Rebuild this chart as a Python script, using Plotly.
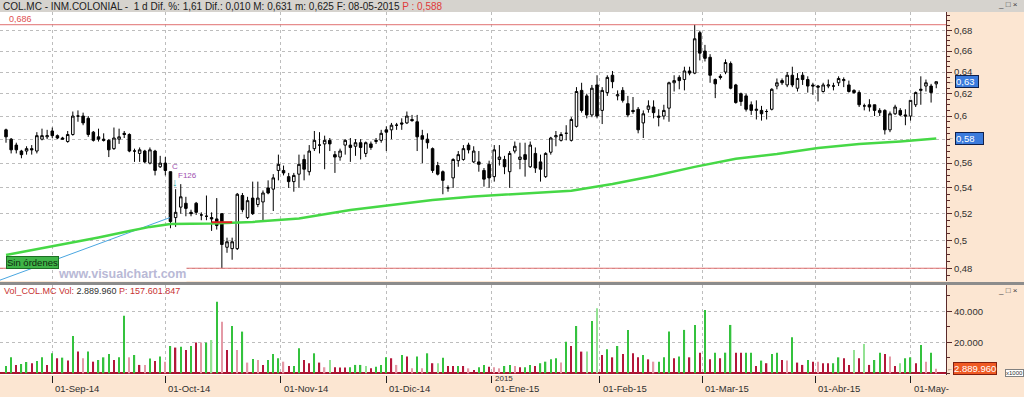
import numpy as np
import plotly.graph_objects as go

# ---------------- data ----------------
opens = [.588,.580,.575,.570,.570,.572,.570,.580,.582,.587,
         .583,.581,.578,.584,.600,.600,.598,.586,.582,.580,
         .579,.572,.580,.585,.584,.570,.568,.570,.560,.570,
         .557,.560,.553,.517,.525,.528,.521,.528,.519,.518,
         .517,.516,.520,.495,.494,.494,.534,.517,.532,.527,
         .529,.540,.539,.554,.554,.549,.545,.551,.563,.553,
         .572,.575,.576,.579,.567,.565,.575,.575,.574,.577,
         .568,.576,.578,.579,.588,.588,.592,.594,.594,.597,
         .595,.583,.580,.572,.558,.553,.540,.548,.562,.563,
         .575,.561,.561,.554,.559,.549,.563,.563,.553,.570,
         .563,.567,.557,.568,.561,.549,.569,.582,.579,.585,
         .579,.591,.623,.618,.601,.628,.605,.621,.637,.618,
         .623,.611,.605,.606,.594,.606,.608,.600,.600,.607,
         .630,.635,.633,.641,.639,.678,.660,.654,.633,.636,
         .640,.648,.628,.620,.618,.610,.605,.605,.604,.606,
         .627,.632,.628,.637,.625,.637,.633,.628,.627,.622,
         .627,.627,.630,.632,.628,.623,.621,.609,.610,.610,
         .603,.605,.588,.602,.605,.601,.600,.610,.623,.627,
         .627,.629]
highs = [.589,.581,.577,.571,.574,.575,.586,.589,.588,.590,
         .584,.582,.587,.604,.605,.603,.600,.587,.589,.585,
         .580,.590,.589,.587,.585,.572,.573,.571,.573,.571,
         .566,.565,.553,.539,.543,.533,.523,.529,.521,.534,
         .521,.532,.520,.502,.502,.536,.536,.533,.545,.545,
         .538,.546,.551,.567,.558,.552,.552,.567,.567,.575,
         .587,.586,.583,.581,.570,.572,.580,.581,.580,.580,
         .578,.578,.581,.588,.591,.594,.594,.598,.604,.601,
         .601,.588,.585,.573,.561,.554,.542,.564,.570,.575,
         .577,.574,.570,.556,.562,.575,.575,.566,.570,.578,
         .577,.577,.578,.573,.567,.569,.582,.587,.586,.592,
         .599,.626,.630,.620,.628,.637,.626,.637,.641,.623,
         .626,.618,.617,.608,.605,.614,.614,.606,.610,.631,
         .637,.637,.645,.645,.686,.680,.666,.657,.634,.638,
         .652,.650,.629,.621,.620,.613,.614,.609,.606,.625,
         .634,.634,.640,.645,.639,.640,.636,.630,.628,.630,
         .633,.630,.636,.635,.632,.624,.623,.611,.615,.610,
         .607,.606,.604,.610,.607,.606,.614,.622,.636,.633,
         .629,.631]
lows = [.577,.568,.568,.564,.567,.567,.568,.579,.580,.581,
        .580,.580,.577,.583,.595,.592,.582,.578,.578,.578,
        .565,.571,.576,.581,.569,.561,.561,.560,.559,.550,
        .556,.550,.509,.510,.520,.518,.518,.519,.515,.515,
        .507,.508,.480,.491,.486,.493,.521,.516,.519,.525,
        .515,.535,.522,.546,.550,.540,.537,.540,.546,.550,
        .570,.568,.555,.570,.552,.562,.567,.561,.566,.563,
        .565,.571,.576,.577,.570,.580,.588,.588,.593,.595,
        .570,.560,.572,.552,.550,.535,.537,.540,.557,.562,
        .568,.560,.553,.541,.540,.545,.558,.551,.540,.568,
        .555,.549,.556,.552,.545,.548,.567,.574,.578,.579,
        .578,.590,.603,.598,.599,.598,.593,.618,.625,.614,
        .612,.599,.602,.585,.581,.603,.598,.591,.597,.595,
        .622,.624,.623,.637,.638,.651,.650,.630,.616,.633,
        .638,.624,.611,.609,.604,.601,.597,.596,.597,.605,
        .624,.628,.626,.626,.622,.628,.621,.619,.613,.621,
        .625,.623,.627,.626,.621,.620,.608,.605,.604,.600,
        .600,.584,.586,.601,.600,.592,.596,.608,.610,.622,
        .612,.625]
closes = [.582,.571,.571,.567,.572,.571,.583,.583,.583,.583,
          .581,.580,.584,.600,.600,.594,.584,.579,.580,.579,
          .571,.581,.582,.584,.570,.570,.571,.561,.571,.554,
          .560,.554,.514,.521,.533,.524,.520,.521,.519,.518,
          .516,.511,.497,.499,.499,.535,.523,.530,.520,.532,
          .536,.536,.548,.559,.552,.545,.550,.559,.555,.570,
          .579,.575,.579,.576,.565,.570,.579,.573,.577,.573,
          .577,.573,.579,.585,.586,.592,.592,.593,.600,.596,
          .582,.580,.577,.554,.551,.546,.540,.563,.567,.572,
          .571,.570,.559,.547,.548,.571,.565,.557,.568,.574,
          .565,.563,.575,.556,.555,.568,.581,.583,.584,.585,
          .597,.622,.605,.601,.625,.600,.623,.635,.631,.619,
          .614,.601,.604,.588,.602,.609,.603,.599,.605,.630,
          .632,.632,.641,.639,.672,.658,.653,.637,.629,.635,
          .649,.625,.612,.613,.606,.605,.606,.602,.604,.624,
          .630,.630,.637,.628,.634,.633,.627,.627,.626,.628,
          .628,.627,.634,.633,.622,.621,.610,.609,.608,.605,
          .605,.588,.602,.608,.601,.600,.614,.621,.624,.630,
          .621,.631]

# volume in thousands of shares
volumes = [4700,10300,5400,6000,7300,6500,8000,10300,5400,12900,
           9700,10100,8200,24000,14000,9700,14000,7500,8600,10300,
           12500,8600,10300,37200,10300,11800,5400,5400,9500,8000,
           10800,7500,17600,16600,17200,15000,17600,19800,19800,19800,
           21500,46200,33300,15000,30500,15000,26900,6900,9200,8600,
           5400,8600,12500,9700,7500,4700,4700,16100,8600,6500,
           12900,6900,3900,8600,3900,3700,3700,3900,5400,5400,
           4700,3200,4300,5400,10300,9700,5400,11800,10800,3200,
           10800,3200,12900,6500,6500,10100,4700,4700,4700,4700,
           3200,2200,3900,5400,4300,3900,3200,4700,5400,4700,
           3900,3900,5400,4700,6500,7500,9000,9700,6900,20400,
           17600,30500,14000,14000,33800,41900,11800,15500,10300,17600,
           12500,28000,12900,10300,11800,9000,7500,7500,10300,26900,
           9700,10800,28000,10300,31200,13300,40900,9000,13300,9700,
           13300,31200,13300,13300,13300,13300,4700,8200,6500,12500,
           13300,8600,8200,23200,6900,5400,8600,7500,7500,6500,
           6500,6500,10300,9700,5400,15000,9700,18900,5400,8600,
           13300,12500,10800,4700,6500,9700,10300,6500,18300,7500,
           13300,2890]
vol_kind = ("g g r g g r g g r g "
            "r g r g r p g r g g "
            "g r g g p g r p g r "
            "g p g r g r g r p g "
            "lg g p r g p g p g p "
            "r g g g p r g g r r "
            "g r p lg r r r g g g "
            "lg r g g g r p g r p "
            "g p g r lg g r r g r "
            "p r g g r p p g g p "
            "r g g r g g g g p g "
            "r g r lg g lg r g r g "
            "r g r r g r p g g g "
            "r g g r g r g r g r "
            "g g r r g g r g r g "
            "g r p g r r g r p r "
            "r g g r r lg r lg r g "
            "g r p r lg g g r g p "
            "g p").split()

# long moving average (read at selected bars)
ma_idx = [0, 6, 12, 18, 24, 28, 32, 40, 48, 57, 67, 75, 83, 91, 100, 110,
          118, 126, 134, 142, 150, 158, 166, 174, 181]
ma_val = [.4894, .4935, .4978, .5022, .5070, .5100, .5122, .5126, .5137, .5163,
          .5228, .5267, .5305, .5332, .5355, .5378, .5431, .5495, .5569, .5635,
          .5676, .5726, .5760, .5781, .5806]

# trend line and order marker
trend_x = [-1.17, 31.9]
trend_y = [0.4717, 0.517]
order_x = [40, 44]
order_y = [0.5135, 0.5135]

month_pos = [9, 31, 53.5, 74, 94.5, 115.5, 135.5, 157.5, 176]
month_labels = ["01-Sep-14", "01-Oct-14", "01-Nov-14", "01-Dic-14", "01-Ene-15",
                "01-Feb-15", "01-Mar-15", "01-Abr-15", "01-May-"]
price_ticks = [0.48, 0.50, 0.52, 0.54, 0.56, 0.58, 0.60, 0.62, 0.64, 0.66, 0.68]
# the 0,58 label is covered by the moving-average value box in the reference
price_labels = ["0,48", "0,5", "0,52", "0,54", "0,56", "", "0,6", "0,62",
                "0,64", "0,66", "0,68"]
vol_ticks = [20000, 40000]
vol_labels = ["20.000", "40.000"]

# ---------------- layout helpers ----------------
W, H = 1024, 397
PL, PR, PT, PB = 0, 946, 12, 375
def px_x(p):
    return (p - PL) / (PR - PL)
def px_y(p):
    return (PB - p) / (PB - PT)

FONT = "Liberation Sans"
idx = list(range(len(closes)))
cmap = {"g": "#34c23e", "lg": "#94e294", "r": "#b3173a", "p": "#e49aa6"}

fig = go.Figure()
fig.add_trace(go.Scatter(x=trend_x, y=trend_y, mode="lines",
                         line=dict(color="#4aa6e0", width=1),
                         xaxis="x", yaxis="y", hoverinfo="skip", showlegend=False))
fig.add_trace(go.Candlestick(
    x=idx, open=opens, high=highs, low=lows, close=closes,
    increasing=dict(line=dict(color="black", width=1), fillcolor="white"),
    decreasing=dict(line=dict(color="black", width=1), fillcolor="black"),
    whiskerwidth=0, xaxis="x", yaxis="y", hoverinfo="skip", showlegend=False))
fig.add_trace(go.Scatter(x=ma_idx, y=ma_val, mode="lines",
                         line=dict(color="#46d846", width=2.5),
                         xaxis="x", yaxis="y", hoverinfo="skip", showlegend=False))
fig.add_trace(go.Scatter(x=order_x, y=order_y, mode="lines",
                         line=dict(color="#e02020", width=2),
                         xaxis="x", yaxis="y", hoverinfo="skip", showlegend=False))
for lvl in (max(highs), min(lows)):
    fig.add_trace(go.Scatter(x=[-3, len(closes) + 3], y=[lvl, lvl], mode="lines",
                             line=dict(color="#e07070", width=1),
                             xaxis="x", yaxis="y", hoverinfo="skip", showlegend=False))
fig.add_trace(go.Bar(x=idx, y=volumes, width=0.26,
                     marker=dict(color=[cmap[k] for k in vol_kind], line=dict(width=0)),
                     xaxis="x2", yaxis="y2", hoverinfo="skip", showlegend=False))

xr = [-1.17, 182.9]
grid = dict(showgrid=True, gridcolor="#bdbdbd", griddash="dot", gridwidth=1)
main_dom = [px_y(281), 1]
vol_dom = [0, px_y(285)]

minor_vals = [round(0.475 + 0.005 * k, 3) for k in range(45)]

fig.update_layout(
    width=W, height=H,
    margin=dict(l=PL, r=W - PR, t=PT, b=H - PB, pad=0),
    paper_bgcolor="#fce6d2", plot_bgcolor="white",
    separators=",.",
    font=dict(family=FONT, size=9, color="#303030"),
    showlegend=False,
    xaxis=dict(domain=[0, 1], range=xr, anchor="y", tickvals=month_pos,
               showticklabels=False, ticks="", zeroline=False, showline=False,
               rangeslider=dict(visible=False), **grid),
    xaxis2=dict(domain=[0, 1], range=xr, anchor="y2", tickvals=month_pos,
                showticklabels=False, ticks="outside", ticklen=7, tickwidth=1,
                tickcolor="#202020", zeroline=False, showline=False, **grid),
    yaxis=dict(domain=main_dom, type="log",
               range=[np.log10(0.4711), np.log10(0.6989)],
               side="right", anchor="x", tickvals=price_ticks, ticktext=price_labels,
               ticks="outside", ticklen=5, tickcolor="#5a2a2a",
               showline=True, linecolor="#5a2a2a", linewidth=1, zeroline=False,
               tickfont=dict(size=9.5, color="#303030"),
               minor=dict(tickvals=minor_vals, ticks="outside", ticklen=3,
                          tickcolor="#5a2a2a", showgrid=False),
               **grid),
    yaxis2=dict(domain=vol_dom, range=[-1100, 56970], side="right", anchor="x2",
                tickvals=vol_ticks, ticktext=vol_labels, ticks="outside", ticklen=5,
                tickcolor="#5a2a2a", showline=True, linecolor="#5a2a2a",
                zeroline=True, zerolinecolor="#a8142e", zerolinewidth=1.5,
                tickfont=dict(size=9.5, color="#303030"),
                minor=dict(dtick=10000, ticks="outside", ticklen=3,
                           tickcolor="#5a2a2a", showgrid=False),
                **grid),
    boxgap=0.3,
)

shapes = [
    dict(type="rect", xref="paper", yref="paper", x0=px_x(0), x1=px_x(W),
         y0=px_y(12), y1=px_y(0), fillcolor="#d6d3ce", line=dict(width=0), layer="above"),
    dict(type="rect", xref="paper", yref="paper", x0=px_x(0), x1=px_x(W),
         y0=px_y(285), y1=px_y(282), fillcolor="#8c8c8c", line=dict(width=0), layer="above"),
]
fig.update_layout(shapes=shapes)

ann = []
title_txt = ("COL.MC - INM.COLONIAL -  1 d Dif. %: 1,61 Dif.: 0,010 M: 0,631 m: 0,625 "
             "F: 08-05-2015 <span style='color:#e03a3a'>P : 0,588</span>")
ann.append(dict(text=title_txt, xref="paper", yref="paper", x=px_x(1), y=px_y(6),
                xanchor="left", yanchor="middle", showarrow=False,
                font=dict(size=10, color="#202020")))
ann.append(dict(text="_ □ ×", xref="paper", yref="paper", x=px_x(1020), y=px_y(5),
                xanchor="right", yanchor="middle", showarrow=False,
                font=dict(size=8, color="#404040")))
ann.append(dict(text="_ □ ×", xref="paper", yref="paper", x=px_x(1020), y=px_y(290),
                xanchor="right", yanchor="middle", showarrow=False,
                font=dict(size=8, color="#404040")))
ann.append(dict(text="0,686", xref="paper", yref="paper", x=px_x(7), y=px_y(19),
                xanchor="left", yanchor="middle", showarrow=False,
                font=dict(size=9, color="#e05050")))
ann.append(dict(text="<b>www.visualchart.com</b>", xref="paper", yref="paper",
                x=px_x(122), y=px_y(273.5), xanchor="center", yanchor="middle",
                showarrow=False, bgcolor="white", borderpad=0,
                font=dict(size=12.5, color="#b9b9d6", family="Liberation Sans")))
ann.append(dict(text="Sin órdenes", xref="paper", yref="paper", x=px_x(6), y=px_y(262.5),
                xanchor="left", yanchor="middle", showarrow=False,
                bgcolor="#3fb548", bordercolor="#1d6f23", borderwidth=1, borderpad=0,
                font=dict(size=9.5, color="#102810")))
# order signal marks near the big drop
ann.append(dict(text="C", xref="x", yref="y", x=32.8, y=np.log10(0.557),
                showarrow=False, font=dict(size=8, color="#a050b0")))
ann.append(dict(text="F126", xref="x", yref="y", x=33.0, y=np.log10(0.5503),
                xanchor="left", showarrow=False, font=dict(size=8, color="#a050b0")))
ann.append(dict(text="↓", xref="x", yref="y", x=32.9, y=np.log10(0.5445),
                showarrow=False, font=dict(size=11, color="#2aa6a0")))
# axis value boxes
ann.append(dict(text="←", xref="paper", yref="y", x=px_x(946), y=np.log10(closes[-1]),
                xanchor="left", showarrow=False, font=dict(size=6, color="#404040")))
ann.append(dict(text="0,63", xref="paper", yref="y", x=px_x(955), y=np.log10(closes[-1]),
                xanchor="left", showarrow=False, bgcolor="#3b7bdc", bordercolor="#10204a",
                borderwidth=1, borderpad=0, width=22, align="left",
                font=dict(size=9.5, color="white")))
ann.append(dict(text="←", xref="paper", yref="y", x=px_x(946), y=np.log10(ma_val[-1]),
                xanchor="left", showarrow=False, font=dict(size=6, color="#404040")))
ann.append(dict(text="0,58", xref="paper", yref="y", x=px_x(955), y=np.log10(ma_val[-1]),
                xanchor="left", showarrow=False, bgcolor="#3b7bdc", bordercolor="#10204a",
                borderwidth=1, borderpad=0, width=27, align="left",
                font=dict(size=9.5, color="white")))
ann.append(dict(text="←", xref="paper", yref="y2", x=px_x(945), y=volumes[-1],
                xanchor="left", showarrow=False, font=dict(size=6, color="#404040")))
ann.append(dict(text="2.889.960", xref="paper", yref="y2", x=px_x(953), y=volumes[-1],
                xanchor="left", showarrow=False, bgcolor="#ef5a24", bordercolor="#802010",
                borderwidth=1, borderpad=0, font=dict(size=9.5, color="white")))
ann.append(dict(text="x1000", xref="paper", yref="paper", x=px_x(1005), y=px_y(377),
                xanchor="left", showarrow=False, bgcolor="white", bordercolor="#808080",
                borderwidth=1, borderpad=0, font=dict(size=6, color="#303030")))
vol_txt = ("<span style='color:#c83232'>Vol_COL.MC Vol:</span> "
           "<span style='color:#303030'>2.889.960</span> "
           "<span style='color:#c83232'>P: 157.601.847</span>")
ann.append(dict(text=vol_txt, xref="paper", yref="paper", x=px_x(2), y=px_y(291),
                xanchor="left", yanchor="middle", showarrow=False, font=dict(size=9)))
for pos, lab in zip(month_pos, month_labels):
    ann.append(dict(text=lab, xref="x2", yref="paper", x=pos, y=px_y(388),
                    xanchor="left", yanchor="middle", xshift=1, showarrow=False,
                    font=dict(size=9.5, color="#303030")))
ann.append(dict(text="2015", xref="x2", yref="paper", x=month_pos[4], y=px_y(378),
                xanchor="left", yanchor="middle", xshift=1, showarrow=False,
                font=dict(size=8, color="#303030")))
fig.update_layout(annotations=ann)

fig.write_html("out.html")
